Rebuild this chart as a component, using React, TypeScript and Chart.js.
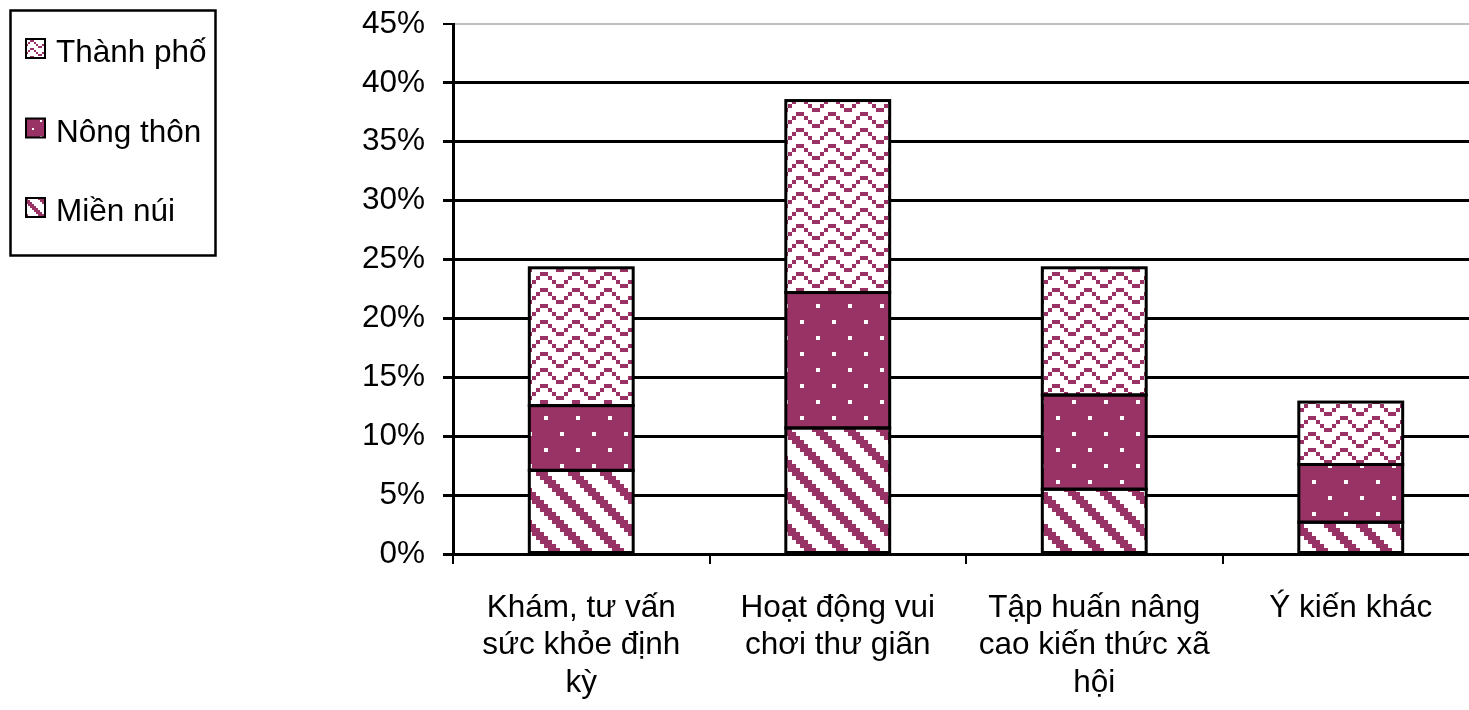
import { useEffect, useRef } from "react";
import { Chart, registerables } from "chart.js";

Chart.register(...registerables);

// Category labels (wrapped into lines as shown under the axis)
const categories: string[][] = [
  ["Khám, tư vấn", "sức khỏe định", "kỳ"],
  ["Hoạt động vui", "chơi thư giãn"],
  ["Tập huấn nâng", "cao kiến thức xã", "hội"],
  ["Ý kiến khác"],
];

// Series names, bottom to top in each stack
const seriesNames = ["Miền núi", "Nông thôn", "Thành phố"];

// Percentages per category
const mienNui = [7.1, 10.7, 5.5, 2.7];
const nongThon = [5.5, 11.5, 8.0, 4.9];
const thanhPho = [11.7, 16.3, 10.8, 5.3];

// Value axis
const yMin = 0;
const yMax = 45;
const yStep = 5;

const PLUM = "#993366";
const FONT = "'Liberation Sans', Arial, Helvetica, sans-serif";
const FONT_SIZE = 31.5;

// 8x8 fill bitmaps ("1" = plum, "0" = white)
const DIAGONAL = [
  "11100000",
  "01110000",
  "00111000",
  "00011100",
  "00001110",
  "00000111",
  "10000011",
  "11000001",
];
const DOTTED = [
  "01111111",
  "11111111",
  "11111111",
  "11111111",
  "11110111",
  "11111111",
  "11111111",
  "11111111",
];
const ZIGZAG = [
  "10000001",
  "01000010",
  "00100100",
  "00011000",
  "10000001",
  "01000010",
  "00100100",
  "00011000",
];

function makePattern(rows: string[], cell: number): CanvasPattern {
  const c = document.createElement("canvas");
  c.width = rows[0].length * cell;
  c.height = rows.length * cell;
  const g = c.getContext("2d")!;
  g.fillStyle = "#ffffff";
  g.fillRect(0, 0, c.width, c.height);
  g.fillStyle = PLUM;
  rows.forEach((r, y) => {
    for (let x = 0; x < r.length; x++) {
      if (r[x] === "1") g.fillRect(x * cell, y * cell, cell, cell);
    }
  });
  return g.createPattern(c, "repeat")!;
}

// Black outlines around every stacked segment, centred on the edges
const segmentOutline = {
  id: "segmentOutline",
  afterDatasetsDraw(chart: any) {
    const ctx = chart.ctx;
    ctx.save();
    ctx.strokeStyle = "#000";
    ctx.lineWidth = 3;
    chart.data.datasets.forEach((_: any, i: number) => {
      const meta = chart.getDatasetMeta(i);
      meta.data.forEach((bar: any) => {
        const { x, y, base, width } = bar.getProps(["x", "y", "base", "width"], true);
        ctx.strokeRect(x - width / 2, Math.min(y, base), width, Math.abs(base - y));
      });
    });
    ctx.restore();
  },
};

// Framed legend in the top-left corner, last series first
const boxedLegend = {
  id: "boxedLegend",
  afterDraw(chart: any) {
    const ctx = chart.ctx;
    const swatches: CanvasPattern[] = chart.options.plugins.boxedLegend.swatches;
    ctx.save();
    ctx.lineWidth = 2.5;
    ctx.strokeStyle = "#000";
    ctx.strokeRect(10.5, 10.5, 205, 245);
    const order = chart.data.datasets.map((_: any, i: number) => i).reverse();
    order.forEach((idx: number, k: number) => {
      const baseline = 62 + k * 79.5;
      const top = baseline - 23;
      ctx.fillStyle = swatches[idx];
      ctx.fillRect(26, top, 19, 19);
      ctx.lineWidth = 2;
      ctx.strokeStyle = "#000";
      ctx.strokeRect(26, top, 19, 19);
      ctx.fillStyle = "#000";
      ctx.font = `${FONT_SIZE}px ${FONT}`;
      ctx.textBaseline = "alphabetic";
      ctx.textAlign = "left";
      ctx.fillText(chart.data.datasets[idx].label, 56, baseline);
    });
    ctx.restore();
  },
};

export default function App() {
  const ref = useRef<HTMLCanvasElement | null>(null);

  useEffect(() => {
    if (!ref.current) return;
    const fills = [makePattern(DIAGONAL, 4), makePattern(DOTTED, 4), makePattern(ZIGZAG, 4)];
    const smallFills = [makePattern(DIAGONAL, 2), makePattern(DOTTED, 2), makePattern(ZIGZAG, 2)];
    const seriesValues = [mienNui, nongThon, thanhPho];

    const chart = new Chart(ref.current, {
      type: "bar",
      data: {
        labels: categories,
        datasets: seriesNames.map((name, i) => ({
          label: name,
          data: seriesValues[i],
          backgroundColor: fills[i],
          borderWidth: 0,
          categoryPercentage: 0.405,
          barPercentage: 1,
        })),
      },
      options: {
        responsive: false,
        animation: false,
        devicePixelRatio: 1,
        layout: { padding: { left: 0, top: 24, right: 21, bottom: 0 } },
        plugins: {
          legend: { display: false },
          tooltip: { enabled: false },
          boxedLegend: { swatches: smallFills },
        } as any,
        scales: {
          x: {
            stacked: true,
            afterFit: (s: any) => {
              s.height = 156;
              s.paddingLeft = 0;
              s.paddingRight = 0;
            },
            border: { display: true, color: "#000", width: 3 },
            grid: {
              display: true,
              offset: true,
              drawOnChartArea: false,
              drawTicks: true,
              tickLength: 10,
              color: "#000",
              lineWidth: 2,
            },
            ticks: {
              color: "#000",
              font: { family: FONT, size: FONT_SIZE, lineHeight: 1.2 },
              maxRotation: 0,
              autoSkip: false,
              padding: 25,
            },
          },
          y: {
            stacked: true,
            min: yMin,
            max: yMax,
            afterFit: (s: any) => {
              s.width = 453;
              s.paddingTop = 0;
              s.paddingBottom = 0;
            },
            border: { display: true, color: "#000", width: 3 },
            grid: {
              color: (c: any) => (c.tick && c.tick.value === yMax ? "#c0c0c0" : "#000"),
              lineWidth: (c: any) => (c.tick && c.tick.value === yMax ? 2 : 3),
              tickColor: "#000",
              tickLength: 10,
            },
            ticks: {
              stepSize: yStep,
              color: "#000",
              font: { family: FONT, size: FONT_SIZE },
              padding: 18,
              callback: (v: any) => `${v}%`,
            },
          },
        },
      },
      plugins: [segmentOutline, boxedLegend],
    });
    return () => chart.destroy();
  }, []);

  return (
    <div
      style={{
        position: "absolute",
        left: 0,
        top: 0,
        width: 1469,
        height: 710,
        overflow: "hidden",
        background: "#fff",
      }}
    >
      <canvas ref={ref} width={1500} height={710} style={{ width: 1500, height: 710 }} />
    </div>
  );
}
